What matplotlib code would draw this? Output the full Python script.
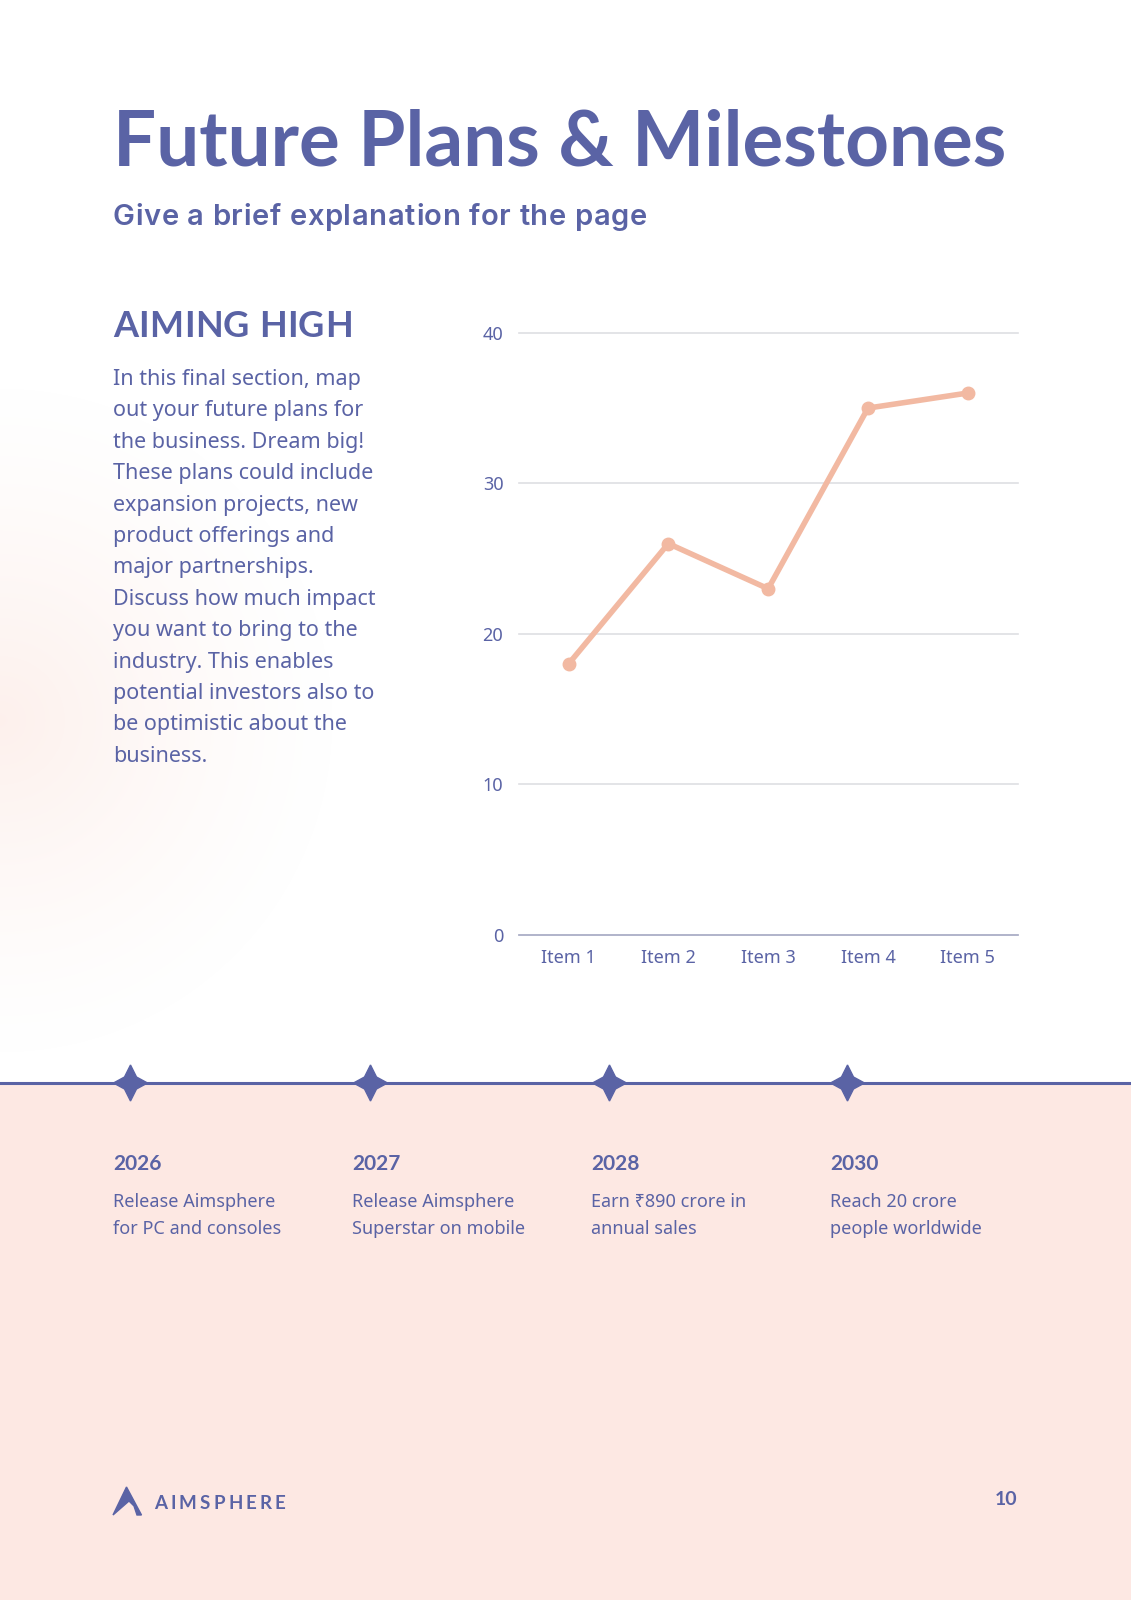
import numpy as np
from matplotlib import pyplot as plt
from matplotlib.patches import Polygon, Rectangle

# chart data
items = ['Item 1', 'Item 2', 'Item 3', 'Item 4', 'Item 5']
values = [18, 26, 23, 35, 36]
y_ticks = [0, 10, 20, 30, 40]

# page text
title = 'Future Plans & Milestones'
subtitle = 'Give a brief explanation for the page'
section = 'AIMING HIGH'
body_lines = ['In this final section, map', 'out your future plans for',
              'the business. Dream big!', 'These plans could include',
              'expansion projects, new', 'product offerings and',
              'major partnerships.', 'Discuss how much impact',
              'you want to bring to the', 'industry. This enables',
              'potential investors also to', 'be optimistic about the',
              'business.']
years = ['2026', '2027', '2028', '2030']
milestones = [['Release Aimsphere', 'for PC and consoles'],
              ['Release Aimsphere', 'Superstar on mobile'],
              ['Earn \u20b9890 crore in', 'annual sales'],
              ['Reach 20 crore', 'people worldwide']]

NAVY = '#5a63a5'
PEACH = '#f2b9a2'
PINK = '#fde8e3'
W, H = 1131, 1600

fig = plt.figure(figsize=(W / 100, H / 100), dpi=100)
fig.patch.set_facecolor('white')

# full page axes in pixel units
page = fig.add_axes([0, 0, 1, 1])
page.set_xlim(0, W)
page.set_ylim(H, 0)
page.axis('off')
renderer = fig.canvas.get_renderer()


def text_width(s, **kw):
    t = page.text(0, 0, s + 'x', **kw)
    tx = page.text(0, 0, 'x', **kw)
    w = t.get_window_extent(renderer).width - tx.get_window_extent(renderer).width
    t.remove()
    tx.remove()
    return w


def tracked_text(x, y, s, spacing, **kw):
    for i, ch in enumerate(s):
        if ch == ' ':
            continue
        dx = text_width(s[:i], **kw) if i else 0
        page.text(x + dx + i * spacing, y, ch, va='baseline', **kw)


# soft pink glow at the left edge
gx, gy = np.meshgrid(np.arange(0, 400), np.arange(380, 1083))
dist = np.sqrt((gx - 0) ** 2 + (gy - 720) ** 2) / 340
glow = np.zeros(gx.shape + (4,))
glow[..., 0] = 251 / 255
glow[..., 1] = 226 / 255
glow[..., 2] = 218 / 255
glow[..., 3] = np.clip(1 - dist, 0, 1) ** 1.3 * 0.5
page.imshow(glow, extent=(0, 400, 1083, 380), zorder=0, aspect='auto')

# pink lower part and timeline
page.add_patch(Rectangle((0, 1083), W, H - 1083, color=PINK, zorder=1))
page.plot([0, W], [1083, 1083], color=NAVY, lw=2.2, zorder=2)

star_x = [130.5, 370.5, 609.5, 847.5]
for sx in star_x:
    pts = [(sx, 1083 - 18), (sx + 6, 1083 - 6), (sx + 17, 1083), (sx + 6, 1083 + 6),
           (sx, 1083 + 18), (sx - 6, 1083 + 6), (sx - 17, 1083), (sx - 6, 1083 - 6)]
    page.add_patch(Polygon(pts, closed=True, color=NAVY, zorder=3))

head = ['Lato', 'DejaVu Sans']
wide = ['Inter', 'DejaVu Sans']
body = ['Noto Sans', 'DejaVu Sans']

page.text(113, 166, title, fontsize=55, fontweight='bold', family=head,
          color=NAVY, va='baseline')
tracked_text(113, 225, subtitle, 0.6, fontsize=21, fontweight='semibold',
             family=wide, color=NAVY)
tracked_text(113, 337, section, 0.4, fontsize=26, fontweight='bold',
             family=head, color=NAVY)
for i, line in enumerate(body_lines):
    page.text(113, 385 + i * 31.4, line, fontsize=15.5, family=body,
              color=NAVY, va='baseline')

year_x = [113, 352, 591, 830]
for x, yr, desc in zip(year_x, years, milestones):
    page.text(x, 1170, yr, fontsize=15, fontweight='bold', family=head,
              color=NAVY, va='baseline', zorder=4)
    for j, line in enumerate(desc):
        page.text(x, 1207 + j * 26.5, line, fontsize=13, family=body,
                  color=NAVY, va='baseline', zorder=4)

# logo mark
logo = [(126.5, 1487), (113, 1515), (129, 1501), (134, 1506), (137, 1515),
        (141.5, 1515)]
page.add_patch(Polygon(logo, closed=True, color=NAVY, zorder=4))
tracked_text(154, 1509, 'AIMSPHERE', 3.2, fontsize=13.5, fontweight='bold',
             family=head, color=NAVY, zorder=4)

page.text(1017.5, 1505, '10', fontsize=14, fontweight='bold', family=head,
          color=NAVY, ha='right', va='baseline', zorder=4)

# line chart
left, right = 518.6, 1017.7
top, bottom = 332.8, 935.0
ax = fig.add_axes([left / W, 1 - bottom / H, (right - left) / W, (bottom - top) / H])
ax.set_facecolor('none')
x = np.arange(len(items))
ax.plot(x, values, color=PEACH, lw=4, marker='o', markersize=9,
        solid_capstyle='round', zorder=3)
ax.set_xlim(-0.5, len(items) - 0.5)
ax.set_ylim(0, 40)
ax.set_xticks(x)
ax.set_xticklabels(items)
ax.set_yticks(y_ticks)
ax.grid(axis='y', color='#dedfe3', lw=1.2, clip_on=False)
ax.set_axisbelow(True)
for side in ['top', 'right', 'left']:
    ax.spines[side].set_visible(False)
ax.spines['bottom'].set_color('#a9acc6')
ax.spines['bottom'].set_linewidth(1.2)
ax.tick_params(length=0, colors=NAVY, labelsize=13)
ax.tick_params(axis='x', pad=10)
ax.tick_params(axis='y', pad=11)
for lab in ax.get_xticklabels() + ax.get_yticklabels():
    lab.set_family(body)

fig.savefig('out.png', dpi=100, facecolor='white')
